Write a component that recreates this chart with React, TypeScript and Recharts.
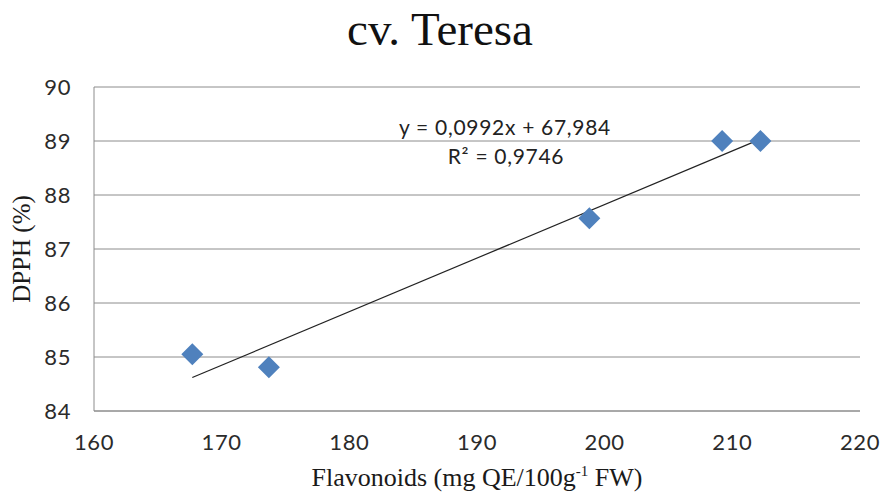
import { ScatterChart, Scatter, XAxis, YAxis, CartesianGrid, ReferenceLine, Label } from "recharts";

const flavonoids = [167.7, 173.7, 198.8, 209.2, 212.2];
const dpph = [85.05, 84.81, 87.57, 89.0, 89.0];
const xTicks = [160, 170, 180, 190, 200, 210, 220];
const yTicks = [84, 85, 86, 87, 88, 89, 90];
const slope = 0.0992;
const intercept = 67.984;
const equationText = "y = 0,0992x + 67,984";
const r2Text = "R² = 0,9746";

const points = flavonoids.map((x, i) => ({ x, y: dpph[i] }));
const xMin = Math.min(...flavonoids);
const xMax = Math.max(...flavonoids);
const trend = [
  { x: xMin, y: slope * xMin + intercept },
  { x: xMax, y: slope * xMax + intercept },
];

const gridColor = "#8c8c8c";
const tickStyle = { fontFamily: "Lato, 'Open Sans', sans-serif", fontSize: 22, fill: "#2b2b2b", letterSpacing: 0.6 };

// excel style diamond marker
const Diamond = (props: any) => {
  const { cx, cy } = props;
  const r = 11;
  return <path d={`M${cx},${cy - r}L${cx + r},${cy}L${cx},${cy + r}L${cx - r},${cy}Z`} fill="#4F81BD" />;
};

const XTitle = (props: any) => {
  const vb = props.viewBox;
  return (
    <text x={vb.x + vb.width / 2} y={486} textAnchor="middle" fontFamily="'Liberation Serif', serif" fontSize={26} fill="#1a1a1a">
      Flavonoids (mg QE/100g
      <tspan fontSize={15} dy={-10}>-1</tspan>
      <tspan dy={10}> FW)</tspan>
    </text>
  );
};

const YTitle = () => (
  <text x={30} y={249} transform="rotate(-90, 30, 249)" textAnchor="middle" fontFamily="'Liberation Serif', serif" fontSize={25} fill="#1a1a1a">
    DPPH (%)
  </text>
);

export default function App() {
  return (
    <div style={{ position: "absolute", left: 0, top: 0, width: 881, height: 492, background: "#fff" }}>
      <ScatterChart width={881} height={492} margin={{ top: 87, right: 21, bottom: 0, left: 0 }}>
        <CartesianGrid vertical={false} stroke={gridColor} />
        <XAxis
          type="number"
          dataKey="x"
          domain={[160, 220]}
          ticks={xTicks}
          height={81}
          tickSize={0}
          tickMargin={23}
          tickLine={false}
          axisLine={{ stroke: gridColor }}
          tick={tickStyle}
        >
          <Label content={<XTitle />} />
        </XAxis>
        <YAxis
          type="number"
          dataKey="y"
          domain={[84, 90]}
          ticks={yTicks}
          width={94}
          tickSize={0}
          tickMargin={23}
          tickLine={false}
          axisLine={{ stroke: gridColor }}
          tick={tickStyle}
        >
          <Label content={<YTitle />} />
        </YAxis>
        <ReferenceLine segment={trend} stroke="#222" strokeWidth={1.2} ifOverflow="visible" />
        <Scatter data={points} shape={<Diamond />} isAnimationActive={false} />
      </ScatterChart>
      <svg width={881} height={492} style={{ position: "absolute", left: 0, top: 0, pointerEvents: "none" }}>
        <text x={440} y={45} textAnchor="middle" fontFamily="'Liberation Serif', serif" fontSize={47} fill="#111">
          cv. Teresa
        </text>
        <text x={505} y={135} textAnchor="middle" fontFamily="Lato, sans-serif" fontSize={21} letterSpacing={0.7} fill="#222">
          {equationText}
        </text>
        <text x={506} y={164} textAnchor="middle" fontFamily="Lato, sans-serif" fontSize={21} letterSpacing={0.7} fill="#222">
          {r2Text}
        </text>
      </svg>
    </div>
  );
}
